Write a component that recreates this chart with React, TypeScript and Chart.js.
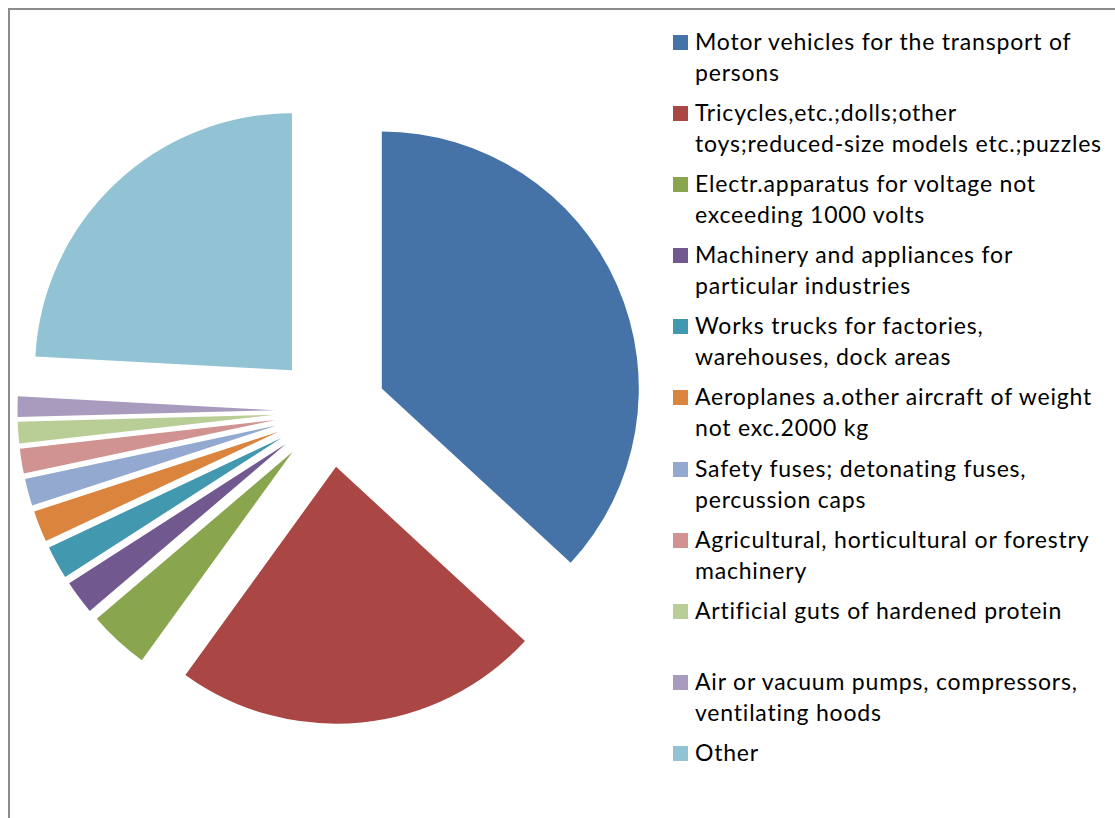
import React, { useEffect, useRef } from "react";
import { Chart, registerables } from "chart.js";

Chart.register(...registerables);

const categories: string[] = [
  "Motor vehicles for the transport of persons",
  "Tricycles,etc.;dolls;other toys;reduced-size models etc.;puzzles",
  "Electr.apparatus for voltage not exceeding 1000 volts",
  "Machinery and appliances for particular industries",
  "Works trucks for factories, warehouses, dock areas",
  "Aeroplanes a.other aircraft of weight not exc.2000 kg",
  "Safety fuses; detonating fuses, percussion caps",
  "Agricultural, horticultural or forestry machinery",
  "Artificial guts of hardened protein",
  "Air or vacuum pumps, compressors, ventilating hoods",
  "Other",
];

const shares: number[] = [36.86, 23.11, 3.81, 2.14, 2.08, 1.97, 1.69, 1.56, 1.36, 1.28, 24.14];

const colors: string[] = [
  "#4572A7",
  "#AA4643",
  "#89A54E",
  "#71588F",
  "#4198AF",
  "#DB843D",
  "#93A9CF",
  "#D19392",
  "#B9CD96",
  "#A99BBD",
  "#92C3D4",
];

const EXPLODE = 56; // px each slice is pulled out from the centre
const PIE_RADIUS = 257;

// Chart.js enlarges the radius of offset arcs and trims their angle by
// offset/PI of arc length; undo both so every slice keeps its true angle and
// the same radius, like an exploded Excel pie.
const explodePlugin = {
  id: "uniformExplode",
  afterDatasetUpdate(chart: any, args: any) {
    const meta = chart.getDatasetMeta(args.index);
    meta.data.forEach((arc: any) => {
      const fix = 1 - Math.sin(Math.min(Math.PI, arc.circumference || 0));
      const radiusOffset = EXPLODE * fix;
      const drawnRadius = arc.outerRadius;
      arc.outerRadius = drawnRadius - radiusOffset;
      const extra = radiusOffset / Math.PI / drawnRadius;
      arc.startAngle -= extra / 2;
      arc.endAngle += extra / 2;
    });
  },
};

function WrappedLabel({ text }: { text: string }) {
  const words = text.split(" ");
  return (
    <>
      {words.map((w, i) => (
        <React.Fragment key={i}>
          <span style={{ whiteSpace: "nowrap" }}>{w}</span>
          {i < words.length - 1 ? " " : null}
        </React.Fragment>
      ))}
    </>
  );
}

export default function App() {
  const canvasRef = useRef<HTMLCanvasElement | null>(null);

  useEffect(() => {
    if (!canvasRef.current) return;
    const chart = new Chart(canvasRef.current, {
      type: "pie",
      data: {
        labels: categories,
        datasets: [
          {
            data: shares,
            backgroundColor: colors,
            borderWidth: 0,
            offset: EXPLODE * 4,
            radius: PIE_RADIUS,
          } as any,
        ],
      },
      options: {
        responsive: false,
        animation: false,
        events: [],
        layout: { padding: { top: 4 } },
        plugins: {
          legend: { display: false },
          tooltip: { enabled: false },
        },
      },
      plugins: [explodePlugin as any],
    });
    return () => chart.destroy();
  }, []);

  return (
    <div
      style={{
        position: "fixed",
        left: 0,
        top: 0,
        width: 1115,
        height: 818,
        overflow: "hidden",
        background: "#fff",
      }}
    >
      <div
        style={{
          position: "absolute",
          left: 8,
          top: 8,
          width: 1200,
          height: 900,
          borderLeft: "2px solid #8c8c8c",
          borderTop: "2px solid #8c8c8c",
        }}
      />
      <canvas
        ref={canvasRef}
        width={661}
        height={818}
        style={{ position: "absolute", left: 0, top: 0, width: 661, height: 818 }}
      />
      <div
        style={{
          position: "absolute",
          left: 673,
          top: 26,
          width: 440,
          fontFamily: "Lato, 'Noto Sans', sans-serif",
          fontSize: 23,
          letterSpacing: "0.8px",
          lineHeight: "31px",
          color: "#000",
        }}
      >
        {categories.map((label, i) => (
          <div key={label} style={{ position: "relative", height: 71.1 }}>
            <div
              style={{
                position: "absolute",
                left: 0,
                top: 9,
                width: 15,
                height: 15,
                background: colors[i],
              }}
            />
            <div style={{ position: "absolute", left: 22, top: 0, width: 416 }}>
              <WrappedLabel text={label} />
            </div>
          </div>
        ))}
      </div>
    </div>
  );
}
